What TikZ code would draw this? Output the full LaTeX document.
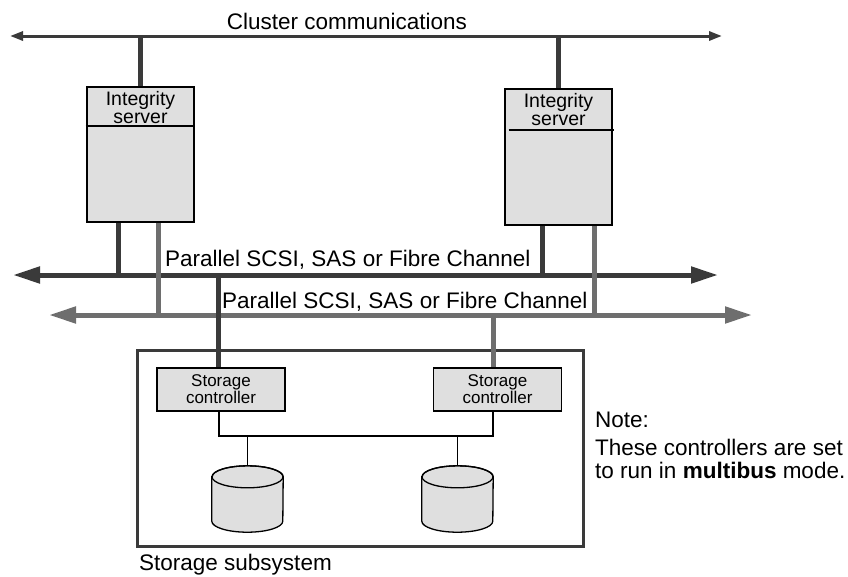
\documentclass[tikz,border=0pt]{standalone}
\usepackage{fontspec}
\setmainfont{Liberation Sans}
\usetikzlibrary{positioning,arrows.meta}
\definecolor{busdark}{HTML}{3A3A3A}
\definecolor{busgray}{HTML}{6E6E6E}
\definecolor{boxfill}{HTML}{DFDFDF}
\newcommand*{\lbltxt}{\fontsize{22.5}{23}\selectfont}
\newcommand*{\srvtxt}{\fontsize{19.5}{18}\selectfont}
\newcommand*{\ctltxt}{\fontsize{17}{17}\selectfont}

\begin{document}
\begin{tikzpicture}[x=1pt,y=-1pt,
  server/.style={draw,line width=2.7pt,fill=boxfill,
    minimum width=107pt,minimum height=135pt,inner sep=0pt},
  ctrl/.style={draw,line width=1.8pt,fill=boxfill,align=center,
    font=\ctltxt,minimum width=128pt,minimum height=43pt,inner sep=0pt},
  disk/.style={inner sep=0pt,minimum width=71pt,minimum height=44pt},
  topbus/.style={busdark,line width=3pt,
    {Triangle[length=13pt,width=9pt]}-{Triangle[length=13pt,width=9pt]}},
  bus/.style={line width=5pt,
    {Triangle[length=27pt,width=16pt]}-{Triangle[length=27pt,width=16pt]}},
  vline/.style={line width=5pt},
  wire/.style={line width=1.3pt}]
\useasboundingbox (0,0) rectangle (848,576);
% Cluster interconnect across the top
\coordinate (cW) at (10,36);
\coordinate (cE) at (722,36);
\draw[topbus] (cW) -- (cE);
\node[font=\lbltxt,anchor=base,inner sep=0pt] (clbl) at (347,29)
  {Cluster communications};
% The two servers
\node[server] (srvL) at (140.5,154.5) {};
\node[server,minimum height=136pt] (srvR) at (558.5,157) {};
\node[font=\srvtxt,align=center,anchor=north,inner sep=0pt]
  (srvLname) at ([yshift=-6pt]srvL.north) {Integrity\\server};
\node[font=\srvtxt,align=center,anchor=north,inner sep=0pt]
  (srvRname) at ([yshift=-6pt]srvR.north) {Integrity\\server};
\draw[line width=2pt] ([yshift=-40pt]srvL.north west) -- ([yshift=-40pt]srvL.north east);
\draw[line width=2pt] ([xshift=5pt,yshift=-42pt]srvR.north west)
  -- ([xshift=1pt,yshift=-42pt]srvR.north east);
\draw[vline,busdark] (srvL.north) -- (srvL.north |- cW);
\draw[vline,busdark] (srvR.north) -- (srvR.north |- cW);
% Storage subsystem with its controllers and disks
\node[draw=busdark,line width=3pt,minimum width=446pt,minimum height=196pt,
  inner sep=0pt] (store) at (360,448) {};
\node[font=\lbltxt,anchor=base west,inner sep=0pt] (storelbl) at (139,570)
  {Storage subsystem};
\node[ctrl] (ctlL) at (221,389.5) {Storage\\controller};
\node[ctrl] (ctlR) at (497.5,389.5) {Storage\\controller};
\node[disk] (diskA) at (247.5,499) {};
\node[disk] (diskB) at (457.5,499) {};
\foreach \d in {diskA,diskB}{
  \draw[wire,fill=boxfill] (\d.north west) -- (\d.south west)
    arc[start angle=180,end angle=360,x radius=35.5pt,y radius=11pt]
    -- (\d.north east)
    arc[start angle=0,end angle=180,x radius=35.5pt,y radius=11pt] -- cycle;
  \draw[wire] (\d.north) ellipse[x radius=35.5pt,y radius=11pt];
}
\draw[wire] ([xshift=-2pt]ctlL.south) -- ++(0,24) coordinate (jL)
  -| ([xshift=-4.5pt]ctlR.south);
\draw[wire] ([yshift=11pt]diskA.north) -- (diskA.north |- jL);
\draw[wire] ([yshift=11pt]diskB.north) -- (diskB.north |- jL);
% The two SCSI / SAS / FC buses
\coordinate (aW) at (13,275);
\coordinate (aE) at (718,275);
\coordinate (bW) at (49,315);
\coordinate (bE) at (752,315);
\draw[bus,busdark] (aW) -- (aE);
\draw[bus,busgray] (bW) -- (bE);
\node[font=\lbltxt,anchor=base west,inner sep=0pt] (lblA) at (165,266)
  {Parallel SCSI, SAS or Fibre Channel};
\node[font=\lbltxt,anchor=base west,inner sep=0pt] (lblB) at (222,308)
  {Parallel SCSI, SAS or Fibre Channel};
% Server and controller taps on the buses
\coordinate (sLa) at ([xshift=-22.5pt]srvL.south);
\coordinate (sLb) at ([xshift=17.5pt]srvL.south);
\coordinate (sRa) at ([xshift=-16.5pt]srvR.south);
\coordinate (sRb) at ([xshift=35.5pt]srvR.south);
\coordinate (cLa) at ([xshift=-3pt]ctlL.north);
\coordinate (cRb) at ([xshift=-4.5pt]ctlR.north);
\draw[vline,busdark] (sLa) -- (sLa |- aW);
\draw[vline,busdark] (sRa) -- (sRa |- aW);
\draw[vline,busgray] (sLb) -- (sLb |- bW);
\draw[vline,busgray] (sRb) -- (sRb |- bW);
\draw[vline,busdark] (cLa |- aW) -- (cLa);
\draw[vline,busgray] (cRb |- bW) -- (cRb);
% Note beside the storage box
\node[font=\lbltxt,anchor=base west,inner sep=0pt] (note) at (595,427) {Note:};
\node[font=\lbltxt,align=left,anchor=north west,inner sep=0pt] (notetxt)
  at (595,439) {These controllers are set\\to run in \textbf{multibus} mode.};
\end{tikzpicture}
\end{document}
